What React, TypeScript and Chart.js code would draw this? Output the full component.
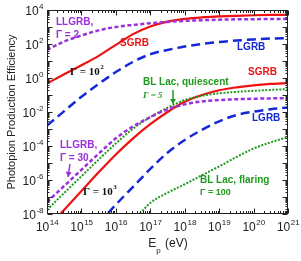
import React, { useEffect, useRef } from "react";
import { Chart, registerables } from "chart.js";

Chart.register(...registerables);

// log10(E_p / eV) grids
const GRID_FULL = [14, 14.5, 15, 15.5, 16, 16.5, 17, 17.5, 18, 18.5, 19, 19.5, 20, 20.5, 21];
const GRID_LGRB_1000 = [15.5, 16, 16.5, 17, 17.5, 18, 18.5, 19, 19.5, 20, 20.5, 21];
const GRID_BLLAC_FLARE = [16.5, 17, 17.5, 18, 18.5, 19, 19.5, 20, 20.5, 21];

// log10(efficiency) values
const LLGRB_G2 = [1.65, 2.15, 2.5, 2.8, 3.0, 3.12, 3.22, 3.3, 3.36, 3.4, 3.43, 3.45, 3.46, 3.47, 3.48];
const SGRB_G100 = [-0.32, 0.22, 0.75, 1.3, 1.95, 2.58, 3.03, 3.32, 3.48, 3.57, 3.62, 3.66, 3.69, 3.71, 3.72];
const LGRB_G100 = [-2.8, -1.95, -1.1, -0.35, 0.35, 0.95, 1.4, 1.65, 1.85, 2.0, 2.12, 2.2, 2.27, 2.32, 2.35];
const BLLAC_QUIESCENT = [-7.76, -6.76, -5.78, -4.8, -3.85, -2.98, -2.3, -1.75, -1.3, -1.05, -0.9, -0.82, -0.75, -0.7, -0.65];
const LLGRB_G30 = [-7.3, -6.35, -5.4, -4.45, -3.55, -2.85, -2.3, -1.85, -1.55, -1.38, -1.3, -1.25, -1.22, -1.2, -1.18];
const SGRB_G1000 = [-8.85, -7.75, -6.65, -5.55, -4.5, -3.55, -2.72, -2.0, -1.4, -1.0, -0.72, -0.55, -0.43, -0.35, -0.3];
const LGRB_G1000 = [-8.55, -7.45, -6.4, -5.35, -4.4, -3.65, -3.05, -2.55, -2.18, -1.98, -1.84, -1.74];
const BLLAC_FLARING = [-8.45, -7.35, -6.75, -6.25, -5.72, -5.2, -4.65, -4.15, -3.78, -3.47];

const X_DECADES = [14, 15, 16, 17, 18, 19, 20, 21];
const Y_LABEL_DECADES = [-8, -6, -4, -2, 0, 2, 4];

const RED = "#ee1111";
const BLUE = "#1428d8";
const PURPLE = "#9a2fdc";
const GREEN = "#1e9a1e";

const SANS = '"Liberation Sans", Arial, sans-serif';
const SERIF = '"Liberation Serif", "Times New Roman", serif';

function pts(grid: number[], vals: number[]) {
  return grid.map((e, i) => ({ x: Math.pow(10, e), y: Math.pow(10, vals[i]) }));
}

function drawPow(ctx: CanvasRenderingContext2D, base: string, exp: string, x: number, y: number, align: string, bf: string, ef: string, color: string) {
  ctx.fillStyle = color;
  ctx.textBaseline = "middle";
  ctx.textAlign = "left";
  ctx.font = bf;
  const w1 = ctx.measureText(base).width;
  ctx.font = ef;
  const w2 = ctx.measureText(exp).width;
  let x0 = x;
  if (align === "center") x0 = x - (w1 + w2) / 2;
  else if (align === "right") x0 = x - w1 - w2;
  ctx.font = bf;
  ctx.fillText(base, x0, y);
  ctx.font = ef;
  ctx.fillText(exp, x0 + w1 + 0.5, y - 5);
}

function txt(ctx: CanvasRenderingContext2D, s: string, x: number, y: number, color: string, font: string) {
  ctx.font = font;
  ctx.fillStyle = color;
  ctx.textAlign = "left";
  ctx.textBaseline = "middle";
  ctx.fillText(s, x, y);
}

function arrow(ctx: CanvasRenderingContext2D, x1: number, y1: number, x2: number, y2: number, color: string) {
  ctx.strokeStyle = color;
  ctx.fillStyle = color;
  ctx.lineWidth = 1.5;
  ctx.beginPath();
  ctx.moveTo(x1, y1);
  ctx.lineTo(x2, y2);
  ctx.stroke();
  const ang = Math.atan2(y2 - y1, x2 - x1);
  const L = 5, W = 3;
  ctx.beginPath();
  ctx.moveTo(x2, y2);
  ctx.lineTo(x2 - L * Math.cos(ang) + W * Math.sin(ang), y2 - L * Math.sin(ang) - W * Math.cos(ang));
  ctx.lineTo(x2 - L * Math.cos(ang) - W * Math.sin(ang), y2 - L * Math.sin(ang) + W * Math.cos(ang));
  ctx.closePath();
  ctx.fill();
}

const decorPlugin = {
  id: "decor",
  afterDatasetsDraw(chart: any) {
    const ctx: CanvasRenderingContext2D = chart.ctx;
    const a = chart.chartArea;
    const xs = chart.scales.x;
    const ys = chart.scales.y;
    ctx.save();
    const L = Math.round(a.left) + 0.5, R = Math.round(a.right) - 0.5;
    const T = Math.round(a.top) + 0.5, B = Math.round(a.bottom) - 0.5;
    ctx.strokeStyle = "#222";
    ctx.lineWidth = 1;
    ctx.strokeRect(L, T, R - L, B - T);

    // x ticks
    ctx.beginPath();
    for (let d = 14; d <= 21; d++) {
      for (let m = 1; m <= 9; m++) {
        if (d === 21 && m > 1) break;
        const px = Math.round(xs.getPixelForValue(m * Math.pow(10, d))) + 0.5;
        const len = m === 1 ? 5 : 2.5;
        ctx.moveTo(px, B); ctx.lineTo(px, B - len);
        ctx.moveTo(px, T); ctx.lineTo(px, T + len);
      }
    }
    // y ticks
    for (let d = -8; d <= 4; d++) {
      for (let m = 1; m <= 9; m++) {
        if (d === 4 && m > 1) break;
        const py = Math.round(ys.getPixelForValue(m * Math.pow(10, d))) + 0.5;
        const len = m === 1 ? 5 : 2;
        ctx.moveTo(L, py); ctx.lineTo(L + len, py);
        ctx.moveTo(R, py); ctx.lineTo(R - len, py);
      }
    }
    ctx.stroke();

    // tick labels
    for (const d of X_DECADES) {
      const px = xs.getPixelForValue(Math.pow(10, d));
      drawPow(ctx, "10", String(d), px, 228, "center", `12px ${SANS}`, `8px ${SANS}`, "#222");
    }
    for (const d of Y_LABEL_DECADES) {
      const py = ys.getPixelForValue(Math.pow(10, d));
      drawPow(ctx, "10", String(d), 43, py + 2, "right", `12px ${SANS}`, `8px ${SANS}`, "#222");
    }

    // axis titles
    ctx.save();
    ctx.translate(12, (a.top + a.bottom) / 2);
    ctx.rotate(-Math.PI / 2);
    ctx.font = `11px ${SANS}`;
    ctx.fillStyle = "#222";
    ctx.textAlign = "center";
    ctx.textBaseline = "middle";
    ctx.fillText("Photopion Production Efficiency", 0, 0);
    ctx.restore();

    ctx.font = `12px ${SANS}`;
    const wE = ctx.measureText("E").width;
    ctx.font = `8px ${SANS}`;
    const wp = ctx.measureText("p").width;
    ctx.font = `12px ${SANS}`;
    const wr = ctx.measureText(" (eV)").width;
    const tot = wE + wp + 1 + wr;
    const x0 = 168 - tot / 2;
    txt(ctx, "E", x0, 244, "#222", `12px ${SANS}`);
    txt(ctx, "p", x0 + wE, 251, "#222", `8px ${SANS}`);
    txt(ctx, " (eV)", x0 + wE + wp + 1, 244, "#222", `12px ${SANS}`);

    // annotations
    const bold = `bold 10px ${SANS}`;
    txt(ctx, "LLGRB,", 56, 22, PURPLE, bold);
    txt(ctx, "\u0393 = 2", 56, 35, PURPLE, `bold 10px ${SANS}`);
    txt(ctx, "SGRB", 120, 43, RED, bold);
    drawPow(ctx, "\u0393 = 10", "2", 70, 72, "left", `bold 11px ${SERIF}`, `bold 7px ${SERIF}`, "#111");
    txt(ctx, "LGRB", 237, 47, BLUE, bold);
    txt(ctx, "SGRB", 248, 72, RED, bold);
    txt(ctx, "BL Lac, quiescent", 143, 82, GREEN, bold);
    txt(ctx, "\u0393 = 5", 143, 96, GREEN, `italic bold 9px ${SERIF}`);
    arrow(ctx, 173, 90, 173, 104, GREEN);
    txt(ctx, "LGRB", 252, 118, BLUE, bold);
    txt(ctx, "LLGRB,", 60, 145, PURPLE, bold);
    txt(ctx, "\u0393 = 30", 60, 158, PURPLE, `bold 10px ${SANS}`);
    arrow(ctx, 70, 164, 68, 177, PURPLE);
    drawPow(ctx, "\u0393 = 10", "3", 83, 192, "left", `bold 11px ${SERIF}`, `bold 7px ${SERIF}`, "#111");
    txt(ctx, "BL Lac, flaring", 200, 180, GREEN, bold);
    txt(ctx, "\u0393 = 100", 200, 193, GREEN, `bold 9px ${SANS}`);

    ctx.restore();
  },
};

export default function App() {
  const ref = useRef<HTMLCanvasElement | null>(null);
  useEffect(() => {
    if (!ref.current) return;
    const common = { pointRadius: 0, fill: false, tension: 0.4, cubicInterpolationMode: "monotone", clip: 0 };
    const chart = new Chart(ref.current, {
      type: "line",
      data: {
        datasets: [
          { ...common, label: "LLGRB G2", data: pts(GRID_FULL, LLGRB_G2), borderColor: PURPLE, borderWidth: 2.5, borderDash: [4, 2.5] },
          { ...common, label: "SGRB G100", data: pts(GRID_FULL, SGRB_G100), borderColor: RED, borderWidth: 2.2 },
          { ...common, label: "LGRB G100", data: pts(GRID_FULL, LGRB_G100), borderColor: BLUE, borderWidth: 2.5, borderDash: [9, 5] },
          { ...common, label: "LLGRB G30", data: pts(GRID_FULL, LLGRB_G30), borderColor: PURPLE, borderWidth: 2.5, borderDash: [4, 2.5] },
          { ...common, label: "BL Lac quiescent", data: pts(GRID_FULL, BLLAC_QUIESCENT), borderColor: GREEN, borderWidth: 2, borderDash: [2, 1.5] },
          { ...common, label: "SGRB G1000", data: pts(GRID_FULL, SGRB_G1000), borderColor: RED, borderWidth: 2.2 },
          { ...common, label: "LGRB G1000", data: pts(GRID_LGRB_1000, LGRB_G1000), borderColor: BLUE, borderWidth: 2.5, borderDash: [9, 5] },
          { ...common, label: "BL Lac flaring", data: pts(GRID_BLLAC_FLARE, BLLAC_FLARING), borderColor: GREEN, borderWidth: 2, borderDash: [2, 1.5] },
        ] as any,
      },
      options: {
        responsive: false,
        animation: false,
        devicePixelRatio: 1,
        parsing: true,
        layout: { padding: { left: 47, top: 10, right: 13, bottom: 47 } },
        plugins: { legend: { display: false }, tooltip: { enabled: false } },
        scales: {
          x: { type: "logarithmic", min: 1e14, max: 1e21, display: false },
          y: { type: "logarithmic", min: 1e-8, max: 1e4, display: false },
        },
      } as any,
      plugins: [decorPlugin],
    });
    return () => chart.destroy();
  }, []);
  return (
    <div style={{ position: "absolute", left: 0, top: 0, width: 301, height: 261, background: "#fff" }}>
      <canvas ref={ref} width={301} height={261} style={{ width: 301, height: 261, display: "block" }} />
    </div>
  );
}
